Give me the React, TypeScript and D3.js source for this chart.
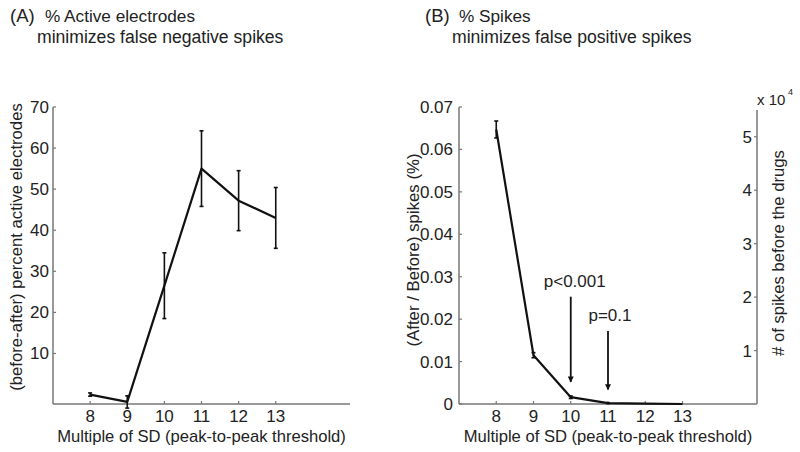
import React from 'react';
import * as d3 from 'd3';

const thresholds = [8, 9, 10, 11, 12, 13];
const activeMean = [0, -1.8, 26.5, 55, 47.2, 43];
const activeErr = [0.4, 1.5, 8, 9.2, 7.3, 7.4];
const activeTicks = [10, 20, 30, 40, 50, 60, 70];

const spikeRatio = [0.0647, 0.0115, 0.0016, 0.0002, 0.0001, 0.0];
const spikeErr = [0.002, 0.0006, 0.0003, 0.0001, 0, 0];
const ratioTicks = [0, 0.01, 0.02, 0.03, 0.04, 0.05, 0.06, 0.07];
const countTicks = [1, 2, 3, 4, 5];

// p-value arrows: threshold, text, arrow start / end (in ratio units), text level
const pNotes = [
  { x: 10, label: 'p<0.001', from: 0.0253, to: 0.0052, textY: 0.0275, dx: 4 },
  { x: 11, label: 'p=0.1', from: 0.0172, to: 0.0034, textY: 0.0196, dx: 2 },
];

const W = 800;
const H = 452;
const FONT = '"Liberation Sans", Arial, sans-serif';
const TXT = '#222';
const AX = '#777';

const yTop = 107;
const yBot = 404;

const Title = ({ x, tag, a, b, gap }: { x: number; tag: string; a: string; b: string; gap: number }) => (
  <g fontFamily={FONT} fill={TXT}>
    <text x={x} y={22} fontSize={18.5}>{tag}</text>
    <text x={x + gap} y={22} fontSize={17.2}>{a}</text>
    <text x={x + 27} y={43} fontSize={17.6}>{b}</text>
  </g>
);

const ErrLine = ({ xs, ys, es, x, y }: any) => {
  const line = d3.line<number>()
    .x((_, i) => x(xs[i]))
    .y((d) => y(d));
  return (
    <g stroke="#111" fill="none">
      <path d={line(ys) || ''} strokeWidth={2.2} strokeLinejoin="round" />
      {ys.map((v: number, i: number) => (
        es[i] > 0 ? (
          <g key={i} strokeWidth={1.6}>
            <line x1={x(xs[i])} x2={x(xs[i])} y1={y(v - es[i])} y2={y(v + es[i])} />
            <line x1={x(xs[i]) - 2} x2={x(xs[i]) + 2} y1={y(v - es[i])} y2={y(v - es[i])} />
            <line x1={x(xs[i]) - 2} x2={x(xs[i]) + 2} y1={y(v + es[i])} y2={y(v + es[i])} />
          </g>
        ) : null
      ))}
    </g>
  );
};

const XAxis = ({ x }: { x: d3.ScaleLinear<number, number> }) => (
  <g fontFamily={FONT} fill={TXT}>
    <line x1={x.range()[0]} x2={x.range()[1]} y1={yBot} y2={yBot} stroke={AX} strokeWidth={1.5} />
    {x.ticks(8).filter((t) => thresholds.includes(t)).map((t) => (
      <g key={t}>
        <line x1={x(t)} x2={x(t)} y1={yBot} y2={yBot - 3} stroke={AX} strokeWidth={1.2} />
        <text x={x(t)} y={422} fontSize={17} textAnchor="middle">{t}</text>
      </g>
    ))}
    <text x={(x.range()[0] + x.range()[1]) / 2} y={442} fontSize={16.6} textAnchor="middle">
      Multiple of SD (peak-to-peak threshold)
    </text>
  </g>
);

export default function App() {
  // panel A
  const xA = d3.scaleLinear().domain([7, 15]).range([53, 350]);
  const yA = d3.scaleLinear().domain([-2.3, 70]).range([yBot, yTop]);
  // panel B
  const xB = d3.scaleLinear().domain([7, 15]).range([459, 757]);
  const yB = d3.scaleLinear().domain([0, 0.07]).range([yBot, yTop]);
  const yC = d3.scaleLinear().domain([0, 5.5]).range([yBot, 110]);
  const fmt = d3.format('.2f');

  return (
    <svg width={W} height={H} style={{ position: 'absolute', left: 0, top: 0, background: '#fff' }}>
      <rect width={W} height={H} fill="#fff" />

      <Title x={10} tag="(A)" a="% Active electrodes" b="minimizes false negative spikes" gap={35} />
      <Title x={425} tag="(B)" a="% Spikes" b="minimizes false positive spikes" gap={34} />

      {/* panel A axes */}
      <g fontFamily={FONT} fill={TXT}>
        <line x1={xA.range()[0]} x2={xA.range()[0]} y1={yBot} y2={yTop} stroke={AX} strokeWidth={1.5} />
        {activeTicks.map((t) => (
          <g key={t}>
            <line x1={xA.range()[0]} x2={xA.range()[0] + 3} y1={yA(t)} y2={yA(t)} stroke={AX} strokeWidth={1.2} />
            <text x={xA.range()[0] - 4} y={yA(t) + 6} fontSize={17} textAnchor="end">{t}</text>
          </g>
        ))}
        <text transform="translate(22,247) rotate(-90)" fontSize={16.7} textAnchor="middle">
          (before-after) percent active electrodes
        </text>
      </g>
      <XAxis x={xA} />
      <ErrLine xs={thresholds} ys={activeMean} es={activeErr} x={xA} y={yA} />

      {/* panel B axes */}
      <g fontFamily={FONT} fill={TXT}>
        <line x1={xB.range()[0]} x2={xB.range()[0]} y1={yBot} y2={yTop} stroke={AX} strokeWidth={1.5} />
        {ratioTicks.map((t) => (
          <g key={t}>
            <line x1={xB.range()[0]} x2={xB.range()[0] + 3} y1={yB(t)} y2={yB(t)} stroke={AX} strokeWidth={1.2} />
            <text x={xB.range()[0] - 6} y={yB(t) + 6} fontSize={17} textAnchor="end">{t === 0 ? '0' : fmt(t)}</text>
          </g>
        ))}
        <text transform="translate(419,250) rotate(-90)" fontSize={16.8} textAnchor="middle">
          (After / Before) spikes (%)
        </text>

        <line x1={xB.range()[1]} x2={xB.range()[1]} y1={yBot} y2={yC.range()[1]} stroke={AX} strokeWidth={1.5} />
        {countTicks.map((t) => (
          <g key={t}>
            <line x1={xB.range()[1]} x2={xB.range()[1] - 3} y1={yC(t)} y2={yC(t)} stroke={AX} strokeWidth={1.2} />
            <text x={xB.range()[1] - 5} y={yC(t) + 6} fontSize={17} textAnchor="end">{t}</text>
          </g>
        ))}
        <text x={757} y={105} fontSize={15}>x 10</text>
        <text x={788} y={95} fontSize={9}>4</text>
        <text transform="translate(784,253) rotate(-90)" fontSize={16.7} textAnchor="middle">
          # of spikes before the drugs
        </text>
      </g>
      <XAxis x={xB} />
      <ErrLine xs={thresholds} ys={spikeRatio} es={spikeErr} x={xB} y={yB} />

      {/* p-value arrows */}
      <defs>
        <marker id="ah" viewBox="0 0 10 10" refX={9} refY={5} markerWidth={9} markerHeight={6} orient="auto" markerUnits="userSpaceOnUse">
          <path d="M0,0 L10,5 L0,10 Z" fill="#111" />
        </marker>
      </defs>
      {pNotes.map((p) => (
        <g key={p.label}>
          <line x1={xB(p.x)} x2={xB(p.x)} y1={yB(p.from)} y2={yB(p.to)} stroke="#111" strokeWidth={1.8} markerEnd="url(#ah)" />
          <text x={xB(p.x) + p.dx} y={yB(p.textY)} fontFamily={FONT} fontSize={17} fill={TXT} textAnchor="middle">{p.label}</text>
        </g>
      ))}
    </svg>
  );
}
